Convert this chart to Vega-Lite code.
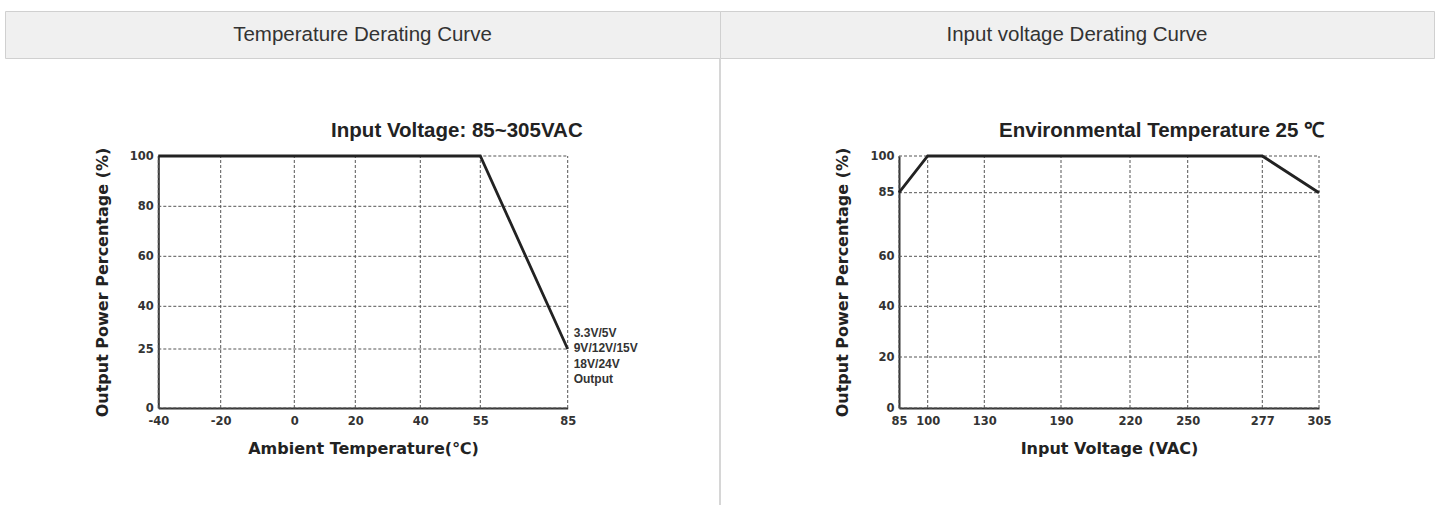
{
  "$schema": "https://vega.github.io/schema/vega-lite/v6.json",
  "background": "white",
  "padding": {"left": 4, "top": 10, "right": 0, "bottom": 0},
  "spacing": 0,
  "config": {
    "view": {"stroke": null},
    "axis": {
      "grid": false, "ticks": false,
      "domainColor": "#333", "domainWidth": 2,
      "labelFont": "DejaVu Sans", "labelFontSize": 11.5, "labelFontWeight": "bold", "labelColor": "#333",
      "labelPadding": 5, "labelFlush": false, "labelOverlap": false,
      "labelExpr": "'' + datum.value",
      "titleFont": "DejaVu Sans", "titleFontSize": 16, "titleFontWeight": "bold", "titleColor": "#222",
      "zindex": 1
    },
    "axisX": {"titlePadding": 14, "labelPadding": 7},
    "axisY": {"titlePadding": 19}
  },
  "datasets": {
    "temp": [{"t": -40, "p": 100}, {"t": 55, "p": 100}, {"t": 85, "p": 25}],
    "tempGridX": [{"t": -40}, {"t": -20}, {"t": 0}, {"t": 20}, {"t": 40}, {"t": 55}, {"t": 85}],
    "tempGridY": [{"p": 0}, {"p": 25}, {"p": 40}, {"p": 60}, {"p": 80}, {"p": 100}],
    "tempNote": [{"t": 85, "p": 25, "label": "3.3V/5V\n9V/12V/15V\n18V/24V\nOutput"}],
    "tempTitle": [{"t": 85, "p": 100, "label": "Input Voltage: 85~305VAC"}],
    "volt": [{"v": 85, "p": 85}, {"v": 100, "p": 100}, {"v": 277, "p": 100}, {"v": 305, "p": 85}],
    "voltGridX": [{"v": 85}, {"v": 100}, {"v": 130}, {"v": 190}, {"v": 220}, {"v": 250}, {"v": 277}, {"v": 305}],
    "voltGridY": [{"p": 0}, {"p": 20}, {"p": 40}, {"p": 60}, {"p": 85}, {"p": 100}],
    "voltTitle": [{"v": 305, "p": 100, "label": "Environmental Temperature 25 ℃"}]
  },
  "vconcat": [
    {
      "spacing": 0,
      "bounds": "flush",
      "hconcat": [
        {
          "width": 715, "height": 47,
          "view": {"fill": "#f0f0f0", "stroke": "#d0d0d0", "strokeWidth": 1},
          "data": {"values": [{"h": "Temperature Derating Curve"}]},
          "mark": {"type": "text", "font": "Liberation Sans", "fontSize": 20.5, "color": "#333"},
          "encoding": {"text": {"field": "h"}}
        },
        {
          "width": 714, "height": 47,
          "view": {"fill": "#f0f0f0", "stroke": "#d0d0d0", "strokeWidth": 1},
          "data": {"values": [{"h": "Input voltage Derating Curve"}]},
          "mark": {"type": "text", "font": "Liberation Sans", "fontSize": 20.5, "color": "#333"},
          "encoding": {"text": {"field": "h"}}
        }
      ]
    },
    {
      "spacing": 0,
      "bounds": "flush",
      "hconcat": [
        {
          "width": 714, "height": 448,
          "layer": [
            {
              "data": {"name": "tempGridX"},
              "mark": {"type": "rule", "color": "#555", "strokeWidth": 1, "strokeDash": [3, 2]},
              "encoding": {
                "x": {"field": "t", "type": "quantitative"},
                "y": {"datum": 0},
                "y2": {"datum": 100}
              }
            },
            {
              "data": {"name": "tempGridY"},
              "mark": {"type": "rule", "color": "#555", "strokeWidth": 1, "strokeDash": [3, 2]},
              "encoding": {
                "y": {"field": "p", "type": "quantitative"},
                "x": {"datum": -40},
                "x2": {"datum": 85}
              }
            },
            {
              "data": {"name": "temp"},
              "mark": {"type": "line", "color": "#222", "strokeWidth": 2.8},
              "encoding": {
                "x": {
                  "field": "t", "type": "quantitative",
                  "scale": {"type": "linear", "domain": [-40, -20, 0, 20, 40, 55, 85], "range": [153.3, 215.7, 289.3, 350.3, 415.3, 475.3, 562.7], "nice": false, "zero": false},
                  "axis": {"values": [-40, -20, 0, 20, 40, 55, 85], "offset": -99, "title": "Ambient Temperature(℃)"}
                },
                "y": {
                  "field": "p", "type": "quantitative",
                  "scale": {"type": "linear", "domain": [0, 25, 40, 60, 80, 100], "range": [349, 290, 247.3, 197.3, 147.3, 97], "nice": false, "zero": false},
                  "axis": {"values": [0, 25, 40, 60, 80, 100], "offset": -153.3, "title": "Output Power Percentage (%)"}
                }
              }
            },
            {
              "data": {"name": "tempNote"},
              "mark": {"type": "text", "align": "left", "baseline": "top", "dx": 6, "dy": -21, "lineBreak": "\n", "lineHeight": 15.3, "font": "Liberation Sans", "fontSize": 12, "fontWeight": "bold", "color": "#333"},
              "encoding": {
                "x": {"field": "t", "type": "quantitative"},
                "y": {"field": "p", "type": "quantitative"},
                "text": {"field": "label"}
              }
            },
            {
              "data": {"name": "tempTitle"},
              "mark": {"type": "text", "align": "right", "baseline": "alphabetic", "dx": 15, "dy": -19, "font": "Liberation Sans", "fontSize": 20.5, "fontWeight": "bold", "color": "#222"},
              "encoding": {
                "x": {"field": "t", "type": "quantitative"},
                "y": {"field": "p", "type": "quantitative"},
                "text": {"field": "label"}
              }
            }
          ]
        },
        {
          "width": 2, "height": 448,
          "view": {"fill": "#d6d6d6", "stroke": null},
          "data": {"values": [{"h": ""}]},
          "mark": {"type": "text"},
          "encoding": {"text": {"field": "h"}}
        },
        {
          "width": 713, "height": 448,
          "layer": [
            {
              "data": {"name": "voltGridX"},
              "mark": {"type": "rule", "color": "#555", "strokeWidth": 1, "strokeDash": [3, 2]},
              "encoding": {
                "x": {"field": "v", "type": "quantitative"},
                "y": {"datum": 0},
                "y2": {"datum": 100}
              }
            },
            {
              "data": {"name": "voltGridY"},
              "mark": {"type": "rule", "color": "#555", "strokeWidth": 1, "strokeDash": [3, 2]},
              "encoding": {
                "y": {"field": "p", "type": "quantitative"},
                "x": {"datum": 85},
                "x2": {"datum": 305}
              }
            },
            {
              "data": {"name": "volt"},
              "mark": {"type": "line", "color": "#222", "strokeWidth": 2.8},
              "encoding": {
                "x": {
                  "field": "v", "type": "quantitative",
                  "scale": {"type": "linear", "domain": [85, 100, 130, 190, 220, 250, 277, 305], "range": [178, 206.7, 263.3, 340, 409, 466.7, 541.3, 598], "nice": false, "zero": false},
                  "axis": {"values": [85, 100, 130, 190, 220, 250, 277, 305], "offset": -99, "title": "Input Voltage (VAC)"}
                },
                "y": {
                  "field": "p", "type": "quantitative",
                  "scale": {"type": "linear", "domain": [0, 20, 40, 60, 85, 100], "range": [349, 298, 247.3, 197.3, 133.7, 97], "nice": false, "zero": false},
                  "axis": {"values": [0, 20, 40, 60, 85, 100], "offset": -178, "title": "Output Power Percentage (%)"}
                }
              }
            },
            {
              "data": {"name": "voltTitle"},
              "mark": {"type": "text", "align": "right", "baseline": "alphabetic", "dx": 5, "dy": -19, "font": "Liberation Sans", "fontSize": 20.5, "fontWeight": "bold", "color": "#222"},
              "encoding": {
                "x": {"field": "v", "type": "quantitative"},
                "y": {"field": "p", "type": "quantitative"},
                "text": {"field": "label"}
              }
            }
          ]
        }
      ]
    }
  ]
}
